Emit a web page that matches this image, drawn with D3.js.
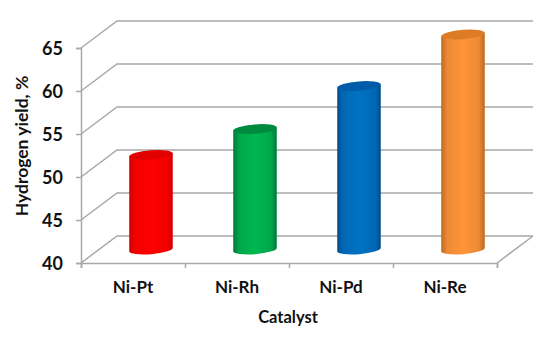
<!DOCTYPE html>
<html><head><meta charset="utf-8">
<script src="https://cdn.jsdelivr.net/npm/d3@7"></script>
<style>html,body{margin:0;padding:0;background:#fff}svg{display:block}text{font-family:Lato,"Open Sans",sans-serif;font-weight:700;fill:#111}</style>
</head><body><svg id="c" width="550" height="339"></svg>
<script>
const categories = ["Ni-Pt","Ni-Rh","Ni-Pd","Ni-Re"];
const hydrogenYield = [51,54,59,65];
const yTicks = [40,45,50,55,60,65];
const edgeColors = ["#d40000","#007a3a","#004f90","#bd6a22"];
const midColors = ["#ff0000","#00b850","#0072c4","#ff9539"];
const topColors = ["#e00000","#008a40","#005ca8","#de7c28"];
const xTitle = "Catalyst", yTitle = "Hydrogen yield, %";

const svg = d3.select("#c");
const dx = 36, dy = -27;
const y = d3.scaleLinear().domain([40,65]).range([263,48]);
const x = d3.scaleBand().domain(categories).range([81,497]);
const xEdges = d3.scaleLinear().domain([0,categories.length]).range([81,497]);
const grid = "#a8a8a8";

const defs = svg.append("defs");
defs.append("filter").attr("id","soft").append("feGaussianBlur").attr("stdDeviation",0.45);
categories.forEach((c,i)=>{
  const g = defs.append("linearGradient").attr("id","g"+i);
  const blend = d3.interpolateRgb(edgeColors[i],midColors[i])(0.72);
  [[0,edgeColors[i]],[0.14,blend],[0.5,midColors[i]],[0.86,blend],[1,edgeColors[i]]].forEach(([o,col])=>g.append("stop").attr("offset",o).attr("stop-color",col));
});

const plot = svg.append("g").attr("filter","url(#soft)");
plot.selectAll("path.wall").data(yTicks).join("path").attr("class","wall")
  .attr("fill","none").attr("stroke",grid).attr("stroke-width",1.5)
  .attr("d",t=>`M${x.range()[0]},${y(t)}l${dx},${dy}H${x.range()[1]+dx}`);
plot.append("path").attr("fill","none").attr("stroke",grid).attr("stroke-width",1.5)
  .attr("d",`M${x.range()[1]},${y(40)}l${dx},${dy}`);
const ax = plot.append("g").attr("transform",`translate(${x.range()[0]},0)`)
  .call(d3.axisLeft(y).tickValues(yTicks).tickSize(5).tickFormat(""));
const bx = plot.append("g").attr("transform",`translate(0,${y(40)})`)
  .call(d3.axisBottom(xEdges).ticks(categories.length).tickSize(5).tickFormat(""));
[ax,bx].forEach(a=>{a.selectAll("path,line").attr("stroke",grid).attr("stroke-width",1.5);});

const r = x.bandwidth()*0.21, ry = 4.7, tilt = -4.5;
const sx = r*Math.cos(tilt*Math.PI/180), sy = r*Math.sin(tilt*Math.PI/180);
const bars = plot.selectAll("g.bar").data(hydrogenYield).join("g").attr("class","bar");
bars.append("path").attr("fill",(d,i)=>`url(#g${i})`).attr("d",(d,i)=>{
  const cx = x(categories[i])+x.bandwidth()/2+dx/2, b = y(40)+dy/2, t = y(d)+dy/2;
  return `M${cx-sx},${t-sy}V${b-sy}A${r},${ry} ${tilt} 0 0 ${cx+sx},${b+sy}V${t+sy}Z`;
});
bars.append("ellipse").attr("rx",r).attr("ry",ry).attr("fill",(d,i)=>topColors[i])
  .attr("transform",(d,i)=>`translate(${x(categories[i])+x.bandwidth()/2+dx/2},${y(d)+dy/2}) rotate(${tilt})`);

svg.selectAll("text.yt").data(yTicks).join("text").attr("class","yt")
  .attr("x",63).attr("y",d=>y(d)+6.5).attr("text-anchor","end").attr("font-size",18).text(d=>d);
svg.selectAll("text.xt").data(categories).join("text").attr("class","xt")
  .attr("x",d=>x(d)+x.bandwidth()/2).attr("y",293).attr("text-anchor","middle").attr("font-size",17).text(d=>d);
svg.append("text").attr("x",288).attr("y",323).attr("text-anchor","middle").attr("font-size",16.5).text(xTitle);
svg.append("text").attr("transform","translate(28,146) rotate(-90)").attr("text-anchor","middle").attr("font-size",17.5).text(yTitle);
</script></body></html>
